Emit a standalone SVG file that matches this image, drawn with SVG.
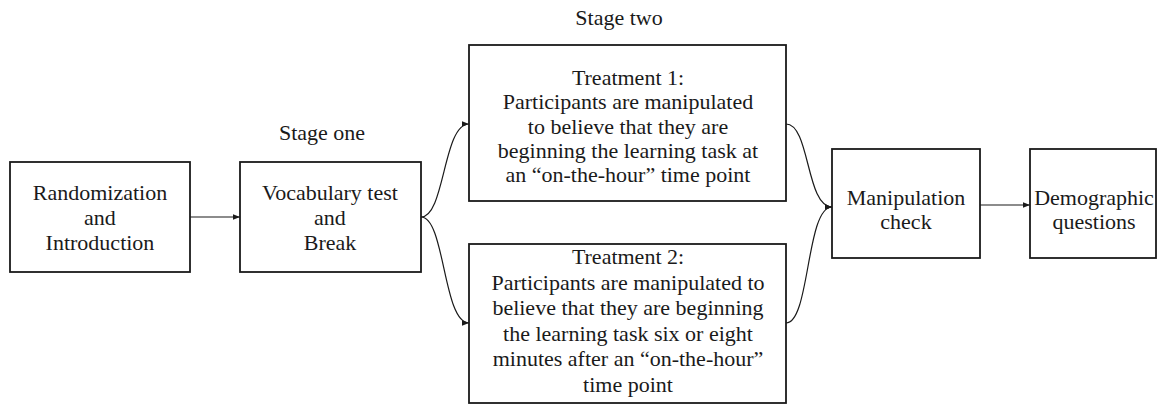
<svg xmlns="http://www.w3.org/2000/svg" width="1160" height="405" viewBox="0 0 1160 405">
<style>
.box{fill:#fff;stroke:#1a1a1a;stroke-width:1.8}
.t{font-family:"Liberation Serif","Times New Roman",serif;font-size:22px;fill:#1a1a1a;text-anchor:middle}
.c{fill:none;stroke:#1a1a1a;stroke-width:1.2}
</style>
<defs>
<marker id="ah" viewBox="0 0 10 10" refX="10" refY="5" markerWidth="7" markerHeight="7" markerUnits="userSpaceOnUse" orient="auto">
<path d="M0,1 L10,5 L0,9 z" fill="#1a1a1a"/>
</marker>
</defs>
<rect width="1160" height="405" fill="#fff"/>
<text class="t" x="322" y="140">Stage one</text>
<text class="t" x="619" y="25">Stage two</text>
<g id="connectors">
<path class="c" d="M190,217 L240,217" marker-end="url(#ah)"/>
<path class="c" d="M421,217 C445,217 443,124 469,124" marker-end="url(#ah)"/>
<path class="c" d="M421,217 C445,217 443,323 469,323" marker-end="url(#ah)"/>
<path class="c" d="M786,124 C810,124 806,207 832,207" marker-end="url(#ah)"/>
<path class="c" d="M786,323 C810,323 806,207 832,207" marker-end="url(#ah)"/>
<path class="c" d="M980,205 L1030,205" marker-end="url(#ah)"/>
</g>
<g id="randomization">
<rect class="box" x="10" y="162" width="180" height="110"/>
<text class="t" x="100" y="200">Randomization</text>
<text class="t" x="100" y="225">and</text>
<text class="t" x="100" y="250">Introduction</text>
</g>
<g id="vocabulary">
<rect class="box" x="240" y="162" width="181" height="110"/>
<text class="t" x="330" y="200">Vocabulary test</text>
<text class="t" x="330" y="225">and</text>
<text class="t" x="330" y="250">Break</text>
</g>
<g id="treatment1">
<rect class="box" x="469" y="45" width="317" height="156"/>
<text class="t" x="628" y="85">Treatment 1:</text>
<text class="t" x="628" y="109">Participants are manipulated</text>
<text class="t" x="628" y="134">to believe that they are</text>
<text class="t" x="628" y="158">beginning the learning task at</text>
<text class="t" x="628" y="182">an “on-the-hour” time point</text>
</g>
<g id="treatment2">
<rect class="box" x="469" y="244" width="317" height="159"/>
<text class="t" x="628" y="264">Treatment 2:</text>
<text class="t" x="628" y="290">Participants are manipulated to</text>
<text class="t" x="628" y="315">believe that they are beginning</text>
<text class="t" x="628" y="341">the learning task six or eight</text>
<text class="t" x="628" y="366">minutes after an “on-the-hour”</text>
<text class="t" x="628" y="392">time point</text>
</g>
<g id="manipulation">
<rect class="box" x="832" y="149" width="148" height="109"/>
<text class="t" x="906" y="205">Manipulation</text>
<text class="t" x="906" y="229">check</text>
</g>
<g id="demographic">
<rect class="box" x="1030" y="149" width="126" height="109"/>
<text class="t" x="1094" y="205">Demographic</text>
<text class="t" x="1094" y="229">questions</text>
</g>
</svg>
